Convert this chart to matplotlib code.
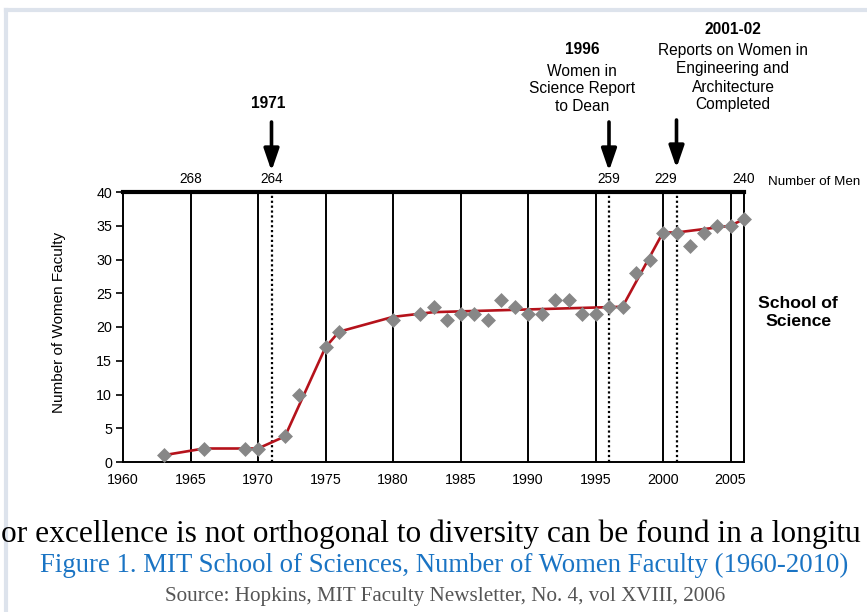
import matplotlib
matplotlib.use('Agg')
import matplotlib.pyplot as plt

# ---- data ----
years = [1963, 1966, 1969, 1970, 1972, 1973, 1975, 1976, 1980, 1982, 1983, 1984,
         1985, 1986, 1987, 1988, 1989, 1990, 1991, 1992, 1993, 1994, 1995, 1996,
         1997, 1998, 1999, 2000, 2001, 2002, 2003, 2004, 2005, 2006]
women = [1, 2, 2, 2, 3.8, 10, 17, 19.3, 21, 22, 23, 21,
         22, 22, 21, 24, 23, 22, 22, 24, 24, 22, 22, 23,
         23, 28, 30, 34, 34, 32, 34, 35, 35, 36]
trend_years = [1963, 1966, 1970, 1972, 1975, 1976, 1980, 1983, 1997, 2000, 2001, 2005, 2006]
trend_vals = [1, 2, 2, 3.8, 17, 19.3, 21.5, 22.2, 23, 34, 34, 35, 36]
decade_lines = [1965, 1970, 1975, 1980, 1985, 1990, 1995, 2000, 2005]
event_years = [1971, 1996, 2001]
men_years = [1965, 1971, 1996, 2000.2, 2006]
men_counts = ['268', '264', '259', '229', '240']
x_ticks = [1960, 1965, 1970, 1975, 1980, 1985, 1990, 1995, 2000, 2005]
y_ticks = [0, 5, 10, 15, 20, 25, 30, 35, 40]

plt.rcParams['font.family'] = ['Liberation Sans', 'DejaVu Sans']

W, H = 867, 612
fig = plt.figure(figsize=(W / 100, H / 100), dpi=100)
fig.patch.set_facecolor('white')

def fx(px):
    return px / W

def fy(py):
    return 1 - py / H

# light frame border
fig.add_artist(plt.Line2D([fx(6), fx(6)], [0, fy(10)], color='#dde3ec', lw=3, transform=fig.transFigure))
fig.add_artist(plt.Line2D([fx(6), 1], [fy(10), fy(10)], color='#dde3ec', lw=3, transform=fig.transFigure))

ax = fig.add_axes([fx(123), fy(462), fx(744) - fx(123), fy(192) - fy(462)])
ax.set_xlim(1960, 2006)
ax.set_ylim(0, 40)

ax.vlines(decade_lines, 0, 40, colors='black', lw=1.4, zorder=1)
ax.vlines(event_years, 0, 40, colors='black', lw=1.6, linestyles=(0, (1, 1.2)), zorder=1)

ax.plot(trend_years, trend_vals, color='#b5121b', lw=1.9, zorder=2)
ax.scatter(years, women, marker='D', s=58, color='#878787', zorder=3, linewidths=0, clip_on=False)

ax.set_xticks(x_ticks)
ax.set_yticks(y_ticks)
ax.tick_params(axis='both', direction='out', labelsize=10.3, colors='black')
ax.tick_params(axis='x', length=0, pad=8)
ax.tick_params(axis='y', length=5, width=1.2, pad=3)
for s in ['left', 'bottom', 'right']:
    ax.spines[s].set_linewidth(1.4)
ax.spines['top'].set_linewidth(3)

fig.text(fx(59), fy(322), 'Number of Women Faculty', rotation=90, ha='center', va='center', fontsize=11)

# number of men
for yr, c in zip(men_years, men_counts):
    ax.text(yr, 1.022, c, transform=ax.get_xaxis_transform(), ha='center', va='bottom', fontsize=9.8)
fig.text(fx(768), fy(182), 'Number of Men', ha='left', va='center', fontsize=9.6)

# arrows
arrow_kw = dict(arrowstyle='-|>,head_width=0.38,head_length=1.1', lw=2.6, color='black',
                shrinkA=0, shrinkB=0, mutation_scale=12)
for yr, y0, y1 in [(1971, 122, 171), (1996, 122, 171), (2001, 120, 168)]:
    ax.annotate('', xy=(yr, fy(y1)), xytext=(yr, fy(y0)),
                xycoords=('data', 'figure fraction'), textcoords=('data', 'figure fraction'),
                arrowprops=arrow_kw, annotation_clip=False)

fs = 11.2
fig.text(fx(268), fy(103), '1971', ha='center', va='center', fontsize=fs, fontweight='bold')
fig.text(fx(582), fy(49), '1996', ha='center', va='center', fontsize=fs, fontweight='bold')
fig.text(fx(582), fy(89), 'Women in\nScience Report\nto Dean', ha='center', va='center',
         fontsize=fs, linespacing=1.22)
fig.text(fx(733), fy(30), '2001-02', ha='center', va='center', fontsize=fs, fontweight='bold')
fig.text(fx(733), fy(78), 'Reports on Women in\nEngineering and\nArchitecture\nCompleted',
         ha='center', va='center', fontsize=fs, linespacing=1.25)

fig.text(fx(798), fy(312), 'School of\nScience', ha='center', va='center', fontsize=12.6,
         fontweight='bold', linespacing=1.25)

# bottom text
fig.text(fx(1), fy(534), 'or excellence is not orthogonal to diversity can be found in a longitu',
         ha='left', va='center', fontsize=22.6, family='Liberation Serif', color='black')
fig.text(fx(444), fy(565), 'Figure 1. MIT School of Sciences, Number of Women Faculty (1960-2010)',
         ha='center', va='center', fontsize=19.3, family='Liberation Serif', color='#1a74c4')
fig.text(fx(445), fy(597), 'Source: Hopkins, MIT Faculty Newsletter, No. 4, vol XVIII, 2006',
         ha='center', va='center', fontsize=15.2, family='Liberation Serif', color='#555555')

fig.savefig('out.png', dpi=100)
